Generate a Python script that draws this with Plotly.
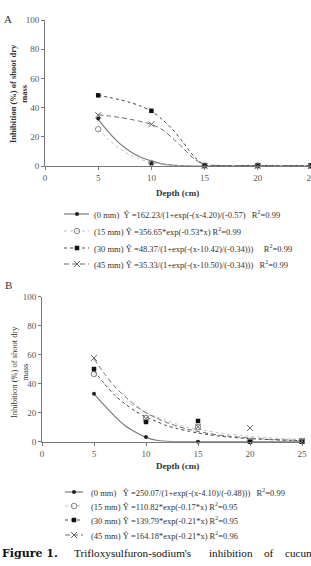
import plotly.graph_objects as go

W, H = 311, 566
FONT = "Liberation Serif"

# ---------------- data ----------------
depth = [5, 10, 15, 20, 25]
depth_fit = list(range(5, 26))

# Panel A observed
A_0mm = [32.5, 1.8, 0.0, 0.0, 0.0]
A_15mm = [25.2, 2.0, 0.3, 0.3, 0.0]
A_30mm = [48.4, 37.8, 0.3, 0.3, 0.3]
A_45mm = [34.8, 28.6, 0.0, 0.0, 0.0]
# Panel A fitted curves
A_0mm_fit = [32, 23, 15.5, 10, 6, 3.5, 1.5, 0.6, 0.2, 0, 0, 0, 0, 0, 0, 0, 0, 0, 0, 0, 0]
A_15mm_fit = [25, 18, 12, 7.5, 4.5, 2.5, 1.2, 0.5, 0.2, 0.1, 0, 0, 0, 0, 0, 0, 0, 0, 0, 0, 0]
A_30mm_fit = [48.5, 47, 45.5, 43.5, 41, 37.5, 32, 25, 16, 6.5, 0.8, 0.4, 0.3, 0.3, 0.3, 0.3, 0.3, 0.3, 0.3, 0.3, 0.3]
A_45mm_fit = [35, 34.3, 33.3, 32, 30.5, 28.5, 25, 19, 12, 5, 0.8, 0.4, 0.3, 0.3, 0.3, 0.3, 0.3, 0.3, 0.3, 0.3, 0.3]

# Panel B observed
B_0mm = [33.1, 3.2, 0.0, 0.0, 0.0]
B_15mm = [46.7, 16.3, 10.0, 0.5, 0.5]
B_30mm = [50.1, 13.6, 14.3, 0.0, 0.0]
B_45mm = [57.7, 16.0, 10.3, 9.4, 0.5]
# Panel B fitted curves
B_0mm_fit = [33, 25, 17.5, 11, 6.5, 3, 1, 0.3, 0, 0, 0, 0, 0, 0, 0, 0, 0, 0, 0, 0, 0]
B_15mm_fit = [47, 40, 34, 28.5, 24, 20, 17, 14.5, 12, 10, 8.5, 7.3, 6.2, 5.2, 4.4, 3.7, 3.1, 2.6, 2.2, 1.9, 1.6]
B_30mm_fit = [49, 40, 32, 26, 21, 17, 14, 11, 9, 7.4, 6, 4.9, 3.9, 3.2, 2.6, 2.1, 1.7, 1.4, 1.1, 0.9, 0.7]
B_45mm_fit = [57, 47, 38, 31, 25, 20, 16.3, 13.2, 10.7, 8.7, 7, 5.7, 4.6, 3.8, 3.1, 2.5, 2.0, 1.6, 1.3, 1.1, 0.9]

y_ticks = [0, 20, 40, 60, 80, 100]
x_ticks = [0, 5, 10, 15, 20, 25]

series_names = ["0 mm", "15 mm", "30 mm", "45 mm"]
legend_A = [
    "(0 mm)\u00a0\u00a0Ŷ =162.23/(1+exp(-(x-4.20)/(-0.57)\u00a0\u00a0\u00a0R<sup>2</sup>=0.99",
    "(15 mm) Ŷ =356.65*exp(-0.53*x) R<sup>2</sup>=0.99",
    "(30 mm) Ŷ =48.37/(1+exp(-(x-10.42)/(-0.34)))\u00a0\u00a0\u00a0\u00a0\u00a0R<sup>2</sup>=0.99",
    "(45 mm) Ŷ =35.33/(1+exp(-(x-10.50)/(-0.34)))\u00a0\u00a0\u00a0R<sup>2</sup>=0.99",
]
legend_B = [
    "(0 mm)\u00a0\u00a0\u00a0Ŷ =250.07/(1+exp(-(x-4.10)/(-0.48)))\u00a0\u00a0\u00a0R<sup>2</sup>=0.99",
    "(15 mm) Ŷ =110.82*exp(-0.17*x) R<sup>2</sup>=0.95",
    "(30 mm) Ŷ =139.79*exp(-0.21*x) R<sup>2</sup>=0.95",
    "(45 mm) Ŷ =164.18*exp(-0.21*x) R<sup>2</sup>=0.96",
]

# ---------------- styles ----------------
line_styles = [
    dict(color="#7a7a7a", width=1.2, dash="solid"),
    dict(color="#c0c0c0", width=1.0, dash="dot"),
    dict(color="#444444", width=1.0, dash="dot"),
    dict(color="#6a6a6a", width=1.0, dash="5px,3px"),
]
marker_styles = [
    dict(symbol="circle", size=4, color="#222222"),
    dict(symbol="circle-open", size=5.5, color="#888888", line=dict(width=1)),
    dict(symbol="square", size=4.5, color="#111111"),
    dict(symbol="x-thin-open", size=6, color="#666666", line=dict(width=1, color="#666666")),
]

fig = go.Figure()

def add_panel(xa, ya, obs, fits):
    for i in range(4):
        fig.add_trace(go.Scatter(x=depth_fit, y=fits[i], mode="lines",
                                 line=dict(shape="spline", smoothing=0.8, **line_styles[i]),
                                 xaxis=xa, yaxis=ya, showlegend=False, cliponaxis=False,
                                 hoverinfo="skip"))
    for i in range(4):
        fig.add_trace(go.Scatter(x=depth, y=obs[i], mode="markers", marker=marker_styles[i],
                                 xaxis=xa, yaxis=ya, showlegend=False, cliponaxis=False,
                                 name=series_names[i]))

add_panel("x", "y", [A_0mm, A_15mm, A_30mm, A_45mm], [A_0mm_fit, A_15mm_fit, A_30mm_fit, A_45mm_fit])
add_panel("x2", "y2", [B_0mm, B_15mm, B_30mm, B_45mm], [B_0mm_fit, B_15mm_fit, B_30mm_fit, B_45mm_fit])

# legend samples drawn on an invisible pixel-coordinate overlay axis
def add_legend_samples(rows_y, x0, x1, xm):
    for i, yy in enumerate(rows_y):
        fig.add_trace(go.Scatter(x=[x0, x1], y=[yy, yy], mode="lines",
                                 line=dict(color=line_styles[i]["color"], width=1.2,
                                           dash=line_styles[i]["dash"]),
                                 xaxis="x3", yaxis="y3", showlegend=False, hoverinfo="skip"))
        fig.add_trace(go.Scatter(x=[xm], y=[yy], mode="markers", marker=marker_styles[i],
                                 xaxis="x3", yaxis="y3", showlegend=False, hoverinfo="skip"))

rows_A = [214, 231, 248, 264]
rows_B = [492, 506, 520, 535]
add_legend_samples(rows_A, 64, 89, 77)
add_legend_samples(rows_B, 65, 83, 74)

axis_common = dict(showline=True, linecolor="#777777", linewidth=1, ticks="outside",
                   ticklen=3, tickcolor="#777777", showgrid=False, zeroline=False,
                   ticklabeloverflow="allow",
                   tickfont=dict(family=FONT, size=9, color="#555555"))

fig.update_layout(
    width=W, height=H, margin=dict(l=0, r=0, t=0, b=0, autoexpand=False),
    paper_bgcolor="white", plot_bgcolor="rgba(0,0,0,0)",
    xaxis=dict(domain=[45 / W, 1.0], range=[0, 25], tickvals=x_ticks, anchor="y", **axis_common),
    yaxis=dict(domain=[1 - 166 / H, 1 - 20 / H], range=[0, 100], tickvals=y_ticks, anchor="x", **axis_common),
    xaxis2=dict(domain=[42 / W, 302 / W], range=[0, 25], tickvals=x_ticks, anchor="y2", **axis_common),
    yaxis2=dict(domain=[1 - 441.7 / H, 1 - 296.7 / H], range=[0, 100], tickvals=y_ticks, anchor="x2", **axis_common),
    xaxis3=dict(domain=[0, 1], range=[0, W], visible=False, anchor="y3", fixedrange=True),
    yaxis3=dict(domain=[0, 1], range=[H, 0], visible=False, anchor="x3", fixedrange=True),
    showlegend=False,
)

def px(x, y):
    return x / W, 1 - y / H

ann = []
def add_text(text, x, y, size=9, xanchor="center", bold=False, angle=0, color="#333333", family=FONT):
    xx, yy = px(x, y)
    if bold:
        text = "<b>" + text + "</b>"
    ann.append(dict(text=text, x=xx, y=yy, xref="paper", yref="paper", showarrow=False,
                    xanchor=xanchor, yanchor="middle", textangle=angle,
                    font=dict(family=family, size=size, color=color)))

add_text("A", 8, 19, size=11)
add_text("B", 8, 285, size=11)
add_text("Inhibition (%) of shoot dry<br>mass", 19, 94, size=8.5, bold=True, angle=-90)
add_text("Inhibition (%) of shoot dry<br>mass", 19, 372, size=8.5, bold=False, angle=-90)
add_text("Depth (cm)", 177, 193, size=9, bold=True)
add_text("Depth (cm)", 177, 466, size=9, bold=True)

for t, yy in zip(legend_A, rows_A):
    add_text(t, 92, yy, size=8.5, xanchor="left")
for t, yy in zip(legend_B, rows_B):
    add_text(t, 89, yy, size=8.5, xanchor="left")

# caption (justified words)
add_text("<b>Figure 1.</b>", 0, 553, size=11, xanchor="left", color="#111111", family="DejaVu Serif")
cap_words = ["Trifloxysulfuron-sodium's", "inhibition", "of", "cucumber"]
cap_x = [72, 207, 262, 283]
for w_, xx in zip(cap_words, cap_x):
    add_text(w_, xx, 553, size=11.2, xanchor="left", color="#111111")

fig.update_layout(annotations=ann)
fig.write_html("out.html")
